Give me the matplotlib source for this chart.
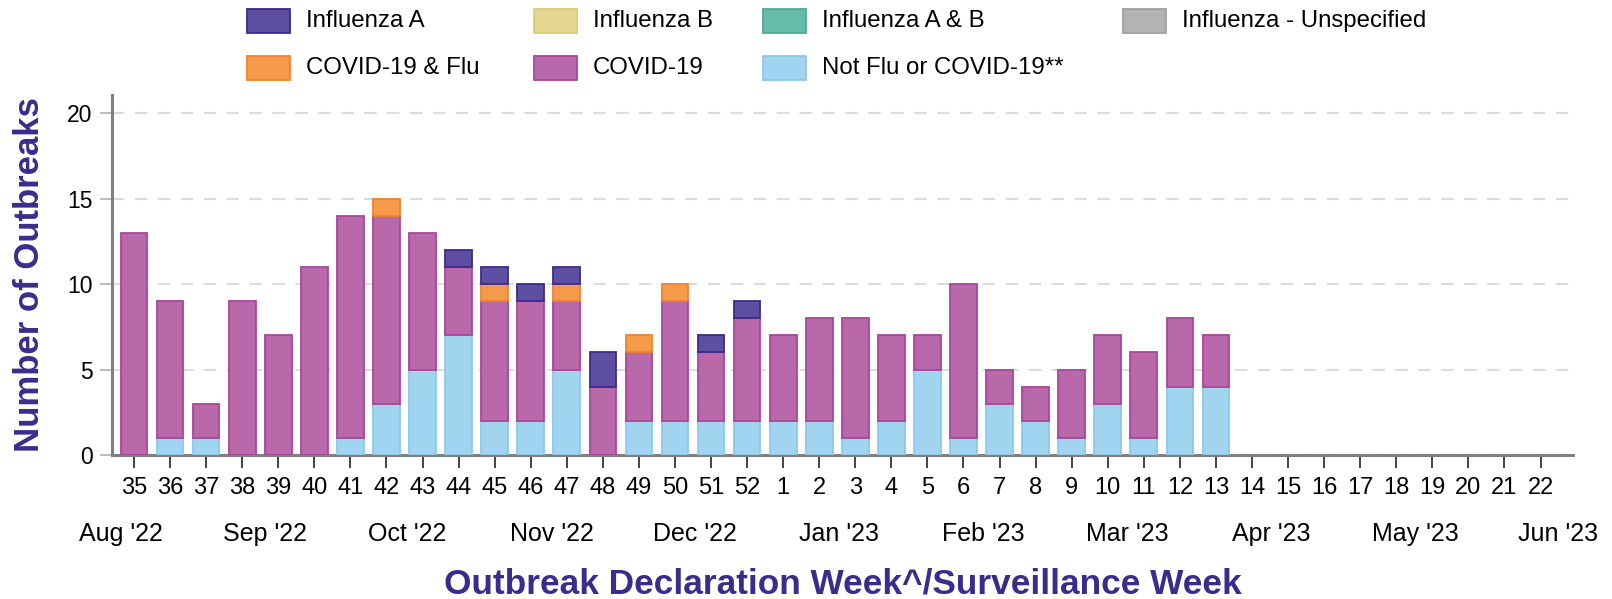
import numpy as np
import matplotlib
matplotlib.use("Agg")
import matplotlib.pyplot as plt
from matplotlib.patches import Rectangle

plt.rcParams['font.family'] = ['Liberation Sans', 'DejaVu Sans']

weeks = [str(w) for w in range(35, 53)] + [str(w) for w in range(1, 23)]

# counts per week (zeros after week 13)
not_flu = [0, 1, 1, 0, 0, 0, 1, 3, 5, 7, 2, 2, 5, 0, 2, 2, 2, 2,
           2, 2, 1, 2, 5, 1, 3, 2, 1, 3, 1, 4, 4] + [0] * 9
covid = [13, 8, 2, 9, 7, 11, 13, 11, 8, 4, 7, 7, 4, 4, 4, 7, 4, 6,
         5, 6, 7, 5, 2, 9, 2, 2, 4, 4, 5, 4, 3] + [0] * 9
covid_flu = [0, 0, 0, 0, 0, 0, 0, 1, 0, 0, 1, 0, 1, 0, 1, 1, 0, 0,
             0, 0, 0, 0, 0, 0, 0, 0, 0, 0, 0, 0, 0] + [0] * 9
flu_a = [0, 0, 0, 0, 0, 0, 0, 0, 0, 1, 1, 1, 1, 2, 0, 0, 1, 1,
         0, 0, 0, 0, 0, 0, 0, 0, 0, 0, 0, 0, 0] + [0] * 9
flu_b = [0] * 40
flu_ab = [0] * 40
flu_unspec = [0] * 40

months = ["Aug '22", "Sep '22", "Oct '22", "Nov '22", "Dec '22", "Jan '23",
          "Feb '23", "Mar '23", "Apr '23", "May '23", "Jun '23"]
month_pos = [-0.36, 3.63, 7.57, 11.59, 15.56, 19.55, 23.54, 27.54, 31.53, 35.52, 39.49]

series = [
    ("Not Flu or COVID-19**", not_flu, '#A0D4EF', '#8CC9EA'),
    ("COVID-19", covid, '#B968A9', '#A8469B'),
    ("COVID-19 & Flu", covid_flu, '#F59A4B', '#F0822E'),
    ("Influenza A", flu_a, '#5E4FA2', '#3D2B8C'),
    ("Influenza B", flu_b, '#E6D690', '#DDCB78'),
    ("Influenza A & B", flu_ab, '#66BBAA', '#4CAA97'),
    ("Influenza - Unspecified", flu_unspec, '#B3B3B3', '#A0A0A0'),
]
colors = {name: (fc, ec) for name, _, fc, ec in series}

title_col = '#3A2C8C'

fig = plt.figure(figsize=(16.12, 5.99), dpi=100)
ax = fig.add_axes([112 / 1612, 1 - 455 / 599, (1573 - 112) / 1612, (455 - 95) / 599])

x = np.arange(len(weeks))
bottom = np.zeros(len(weeks))
for name, vals, fc, ec in series:
    vals = np.array(vals, dtype=float)
    mask = vals > 0
    ax.bar(x[mask], vals[mask], bottom=bottom[mask], width=0.74,
           color=fc, edgecolor=ec, linewidth=1.3, zorder=3)
    bottom += vals

ax.set_xlim(-0.61, 39.9)
ax.set_ylim(0, 21.07)
ax.set_yticks([0, 5, 10, 15, 20])
ax.set_xticks(x)
ax.set_xticklabels(weeks)

ax.yaxis.grid(True, color='#DCDCDC', linewidth=1.5, dashes=(6, 5), zorder=0)
ax.set_axisbelow(True)

for s in ['top', 'right']:
    ax.spines[s].set_visible(False)
for s in ['left', 'bottom']:
    ax.spines[s].set_color('#808080')
    ax.spines[s].set_linewidth(2.2)

ax.tick_params(axis='y', length=9, width=1.2, color='#B0B0B0', labelsize=16.5, pad=5)
ax.tick_params(axis='x', length=9, width=1.2, color='#222222', labelsize=17, pad=7)

# month labels under week numbers
for m, p in zip(months, month_pos):
    ax.text(p, -0.24, m, transform=ax.get_xaxis_transform(), ha='center',
            va='baseline', fontsize=18)

fig.text(0.5226, 6 / 599, "Outbreak Declaration Week^/Surveillance Week",
         ha='center', va='baseline', fontsize=25.4, fontweight='bold', color=title_col)
fig.text(30 / 1612, 1 - 275 / 599, "Number of Outbreaks", rotation=90,
         ha='center', va='center', fontsize=25, fontweight='bold', color=title_col)

# legend, two rows
legend_rows = [
    ["Influenza A", "Influenza B", "Influenza A & B", "Influenza - Unspecified"],
    ["COVID-19 & Flu", "COVID-19", "Not Flu or COVID-19**"],
]
col_x = [247, 534, 763, 1123]
row_y = [21, 68]
for r, row in enumerate(legend_rows):
    for c, name in enumerate(row):
        fc, ec = colors[name]
        px, py = col_x[c], row_y[r]
        fig.patches.append(Rectangle((px / 1612, 1 - (py + 12) / 599), 43 / 1612, 24 / 599,
                                     transform=fig.transFigure, facecolor=fc,
                                     edgecolor=ec, linewidth=1.3))
        fig.text((px + 59) / 1612, 1 - py / 599, name, ha='left', va='center',
                 fontsize=17.3)

fig.savefig("out.png", dpi=100)
